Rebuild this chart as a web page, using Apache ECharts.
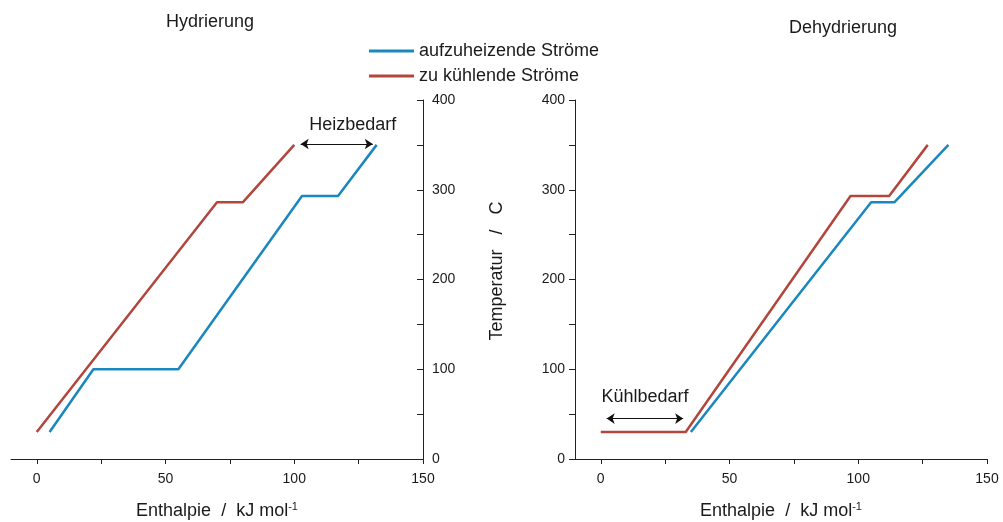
<!DOCTYPE html>
<html>
<head>
<meta charset="utf-8">
<script src="https://cdn.jsdelivr.net/npm/echarts@6/dist/echarts.min.js"></script>
<style>
  html, body { margin: 0; padding: 0; background: #fff; }
  #chart { width: 1003px; height: 522px; }
</style>
</head>
<body>
<div id="chart"></div>
<script>
// Enthalpie (kJ/mol) / Temperatur (°C) Verläufe
const hydHeatX = [5, 22, 55, 103, 117, 132];
const hydHeatY = [30, 100, 100, 293, 293, 350];
const hydCoolX = [0, 70, 80, 100];
const hydCoolY = [30, 286, 286, 350];

const dehCoolX = [0, 33, 97, 112, 127];
const dehCoolY = [30, 30, 293, 293, 350];
const dehHeatX = [35, 105, 114, 135];
const dehHeatY = [30, 286, 286, 350];

// Doppelpfeile: [x0, x1, y]
const heizArrow = [102.5, 130.5, 351];
const kuehlArrow = [2.3, 32, 45];

const xLabelValues = [0, 50, 100, 150];
const xTickValues = [0, 25, 50, 75, 100, 125, 150];
const yLabelValues = [0, 100, 200, 300, 400];

const names = ['aufzuheizende Ströme', 'zu kühlende Ströme'];
const colors = ['#1a87bf', '#b2463d'];

const zip = (xs, ys) => xs.map((x, i) => [x, ys[i]]);
const font = 'Liberation Sans, Arial, sans-serif';
const axisColor = '#222';
const textColor = '#1a1a1a';

function xAxis(gridIndex) {
  return {
    gridIndex, type: 'value', min: -10, max: 150,
    axisLine: { show: true, onZero: false, lineStyle: { color: axisColor, width: 1 } },
    axisTick: { show: true, length: 5, customValues: xTickValues, lineStyle: { color: axisColor } },
    axisLabel: { customValues: xLabelValues, color: textColor, fontSize: 14, fontFamily: font, margin: 13 },
    splitLine: { show: false },
    name: '{t|Enthalpie  /  kJ mol}{s|-1}',
    nameLocation: 'middle', nameGap: 42,
    nameTextStyle: {
      rich: {
        t: { fontSize: 18, fontFamily: font, color: textColor },
        s: { fontSize: 11, fontFamily: font, color: textColor, padding: [0, 0, 10, 0] }
      }
    }
  };
}

function yAxis(gridIndex, position, inside) {
  return {
    gridIndex, type: 'value', min: 0, max: 400, interval: 50, position,
    axisLine: { show: true, onZero: false, lineStyle: { color: axisColor, width: 1 } },
    axisTick: { show: true, inside, length: 6, lineStyle: { color: axisColor } },
    axisLabel: {
      color: textColor, fontSize: 14, fontFamily: font, margin: inside ? 9 : 10,
      formatter: v => (yLabelValues.includes(v) ? String(v) : '')
    },
    splitLine: { show: false }
  };
}

function arrowLine(a, label, offset) {
  return {
    silent: true, animation: false,
    symbol: ['arrow', 'arrow'], symbolSize: 8,
    lineStyle: { color: '#111', width: 1, type: 'solid' },
    label: { show: true, position: 'middle', formatter: label, distance: 10, offset,
             fontSize: 18, fontFamily: font, color: textColor },
    data: [[{ coord: [a[0], a[2]] }, { coord: [a[1], a[2]] }]]
  };
}

function lineSeries(name, data, idx, color, markLine) {
  const s = {
    name, type: 'line', xAxisIndex: idx, yAxisIndex: idx, data,
    showSymbol: false, symbol: 'none', color,
    lineStyle: { width: 2.5, color }, z: 3
  };
  if (markLine) s.markLine = markLine;
  return s;
}

const chart = echarts.init(document.getElementById('chart'));
chart.setOption({
  animation: false,
  backgroundColor: '#fff',
  grid: [
    { left: 11, top: 100, width: 412, height: 359, outerBoundsMode: 'none', containLabel: false },
    { left: 575, top: 100, width: 412, height: 359, outerBoundsMode: 'none', containLabel: false }
  ],
  xAxis: [xAxis(0), xAxis(1)],
  yAxis: [yAxis(0, 'right', true), yAxis(1, 'left', false)],
  legend: {
    orient: 'vertical', left: 369, top: 42, itemGap: 7, padding: 0,
    itemWidth: 45, itemHeight: 3, icon: 'rect',
    textStyle: { fontSize: 18, fontFamily: font, color: textColor, padding: [0, 0, 0, 0] },
    data: names
  },
  graphic: [
    { type: 'text', x: 210, y: 22,
      style: { text: 'Hydrierung', fontSize: 18, fontFamily: font, fill: textColor, align: 'center', verticalAlign: 'middle' } },
    { type: 'text', x: 843, y: 28,
      style: { text: 'Dehydrierung', fontSize: 18, fontFamily: font, fill: textColor, align: 'center', verticalAlign: 'middle' } },
    { type: 'text', x: 497, y: 271, rotation: Math.PI / 2,
      style: { text: 'Temperatur   /   C', fontSize: 18, fontFamily: font, fill: textColor, align: 'center', verticalAlign: 'middle' } }
  ],
  series: [
    lineSeries(names[0], zip(hydHeatX, hydHeatY), 0, colors[0], arrowLine(heizArrow, 'Heizbedarf', [16, 0])),
    lineSeries(names[1], zip(hydCoolX, hydCoolY), 0, colors[1]),
    lineSeries(names[0], zip(dehHeatX, dehHeatY), 1, colors[0]),
    lineSeries(names[1], zip(dehCoolX, dehCoolY), 1, colors[1], arrowLine(kuehlArrow, 'Kühlbedarf', [0, -3]))
  ]
});
</script>
</body>
</html>
